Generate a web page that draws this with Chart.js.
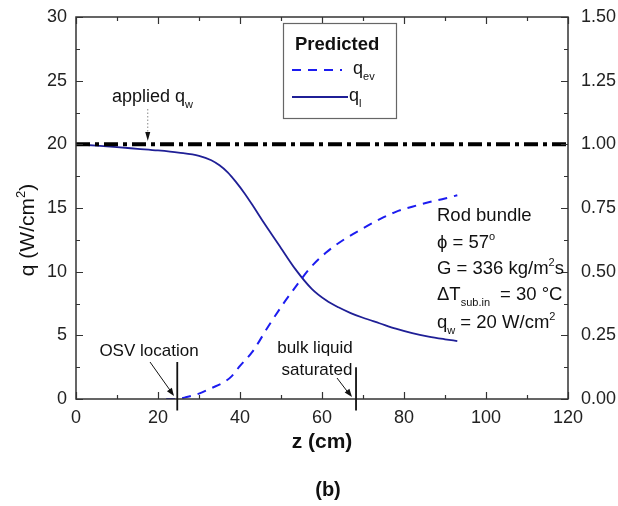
<!DOCTYPE html>
<html>
<head>
<meta charset="utf-8">
<script src="https://cdn.jsdelivr.net/npm/chart.js@4"></script>
<style>
  html, body { margin: 0; padding: 0; background: #fff; }
  canvas { display: block; }
</style>
</head>
<body>
<canvas id="chart" width="618" height="506"></canvas>
<script>
// ── Data ─────────────────────────────────────────────────────────
const zLiquid = [0, 5, 10, 15, 20, 25, 30, 33, 35, 37, 39, 41, 43, 45.5, 49.5, 53.5, 57.5, 61, 64, 67, 70, 74, 78, 82, 86, 90, 93];
const qLiquid = [20, 19.9, 19.78, 19.65, 19.52, 19.35, 19.1, 18.75, 18.35, 17.8, 17.05, 16.2, 15.25, 14.0, 12.1, 10.2, 8.65, 7.75, 7.2, 6.75, 6.38, 5.95, 5.52, 5.17, 4.9, 4.69, 4.55];

const zEvap = [22, 24.5, 27, 30, 33, 36, 38, 40, 43, 47, 50.5, 54, 57, 61, 65, 70, 74, 78, 82, 86, 90, 93];
const qEvap = [0, 0, 0.15, 0.42, 0.85, 1.3, 1.8, 2.6, 3.7, 5.75, 7.45, 9.0, 10.25, 11.5, 12.45, 13.4, 14.1, 14.7, 15.1, 15.45, 15.75, 16.0];

const zApplied = [0, 120];
const qApplied = [20, 20];

const zOsv = 24.7;      // OSV location marker
const zBulkSat = 68.3;  // bulk liquid saturated marker

const xTicks = [0, 20, 40, 60, 80, 100, 120];
const yTicks = [0, 5, 10, 15, 20, 25, 30];
const y1Ticks = [0, 0.25, 0.5, 0.75, 1.0, 1.25, 1.5];

// ── Styling ──────────────────────────────────────────────────────
const fontFamily = "'Liberation Sans', Arial, sans-serif";
const axisColor = "#333";
const navy = "#1f1f96";
const blue = "#1c1cf0";

function pts(xs, ys) {
  return xs.map((x, i) => ({ x, y: ys[i] }));
}

// rich text helper: parts = [[text, "n" | "sub" | "sup"], ...]
function richWidth(ctx, parts, size, weight) {
  let w = 0;
  parts.forEach(([t, k]) => {
    const s = k === "n" ? size : Math.round(size * 0.62);
    ctx.font = `${weight} ${s}px ${fontFamily}`;
    w += ctx.measureText(t).width;
  });
  return w;
}

function drawRich(ctx, parts, x, y, size, weight = "normal") {
  ctx.textBaseline = "alphabetic";
  ctx.textAlign = "left";
  parts.forEach(([t, k]) => {
    const s = k === "n" ? size : Math.round(size * 0.62);
    ctx.font = `${weight} ${s}px ${fontFamily}`;
    let dy = 0;
    if (k === "sub") dy = size * 0.32;
    if (k === "sup") dy = -size * 0.45;
    ctx.fillText(t, x, y + dy);
    x += ctx.measureText(t).width;
  });
}

function arrowHead(ctx, x1, y1, x2, y2, len, half) {
  const a = Math.atan2(y2 - y1, x2 - x1);
  ctx.beginPath();
  ctx.moveTo(x2, y2);
  ctx.lineTo(x2 - len * Math.cos(a) + half * Math.sin(a), y2 - len * Math.sin(a) - half * Math.cos(a));
  ctx.lineTo(x2 - len * Math.cos(a) - half * Math.sin(a), y2 - len * Math.sin(a) + half * Math.cos(a));
  ctx.closePath();
  ctx.fill();
}

// keep the plot box fixed: no extra room for edge tick labels
function fixSize(prop, size) {
  return (s) => {
    s[prop] = size;
    s.paddingTop = 0; s.paddingBottom = 0;
    s.paddingLeft = 0; s.paddingRight = 0;
  };
}

// ── Frame, inward ticks, annotations, legend ─────────────────────
const decorPlugin = {
  id: "decor",
  afterDraw(chart) {
    const { ctx, chartArea: a, scales: { x, y, y1 } } = chart;
    ctx.save();

    // frame
    ctx.strokeStyle = axisColor;
    ctx.lineWidth = 1.5;
    ctx.strokeRect(a.left, a.top, a.right - a.left, a.bottom - a.top);

    // ticks
    ctx.lineWidth = 1.2;
    ctx.beginPath();
    for (let v = 0; v <= 120; v += 10) {
      const px = Math.round(x.getPixelForValue(v)) + 0.5;
      const len = v % 20 === 0 ? 7 : 4;
      ctx.moveTo(px, a.bottom); ctx.lineTo(px, a.bottom - len);
      ctx.moveTo(px, a.top); ctx.lineTo(px, a.top + len);
    }
    for (let v = 0; v <= 30; v += 2.5) {
      const py = Math.round(y.getPixelForValue(v)) + 0.5;
      const len = v % 5 === 0 ? 7 : 4;
      ctx.moveTo(a.left, py); ctx.lineTo(a.left + len, py);
    }
    for (let v = 0; v <= 1.5001; v += 0.125) {
      const py = Math.round(y1.getPixelForValue(v)) + 0.5;
      const len = Math.abs(v / 0.25 - Math.round(v / 0.25)) < 1e-6 ? 7 : 4;
      ctx.moveTo(a.right, py); ctx.lineTo(a.right - len, py);
    }
    ctx.stroke();

    ctx.fillStyle = "#111";
    ctx.strokeStyle = "#111";

    // axis titles
    ctx.font = `bold 21px ${fontFamily}`;
    ctx.textAlign = "center";
    ctx.textBaseline = "middle";
    ctx.fillText("z (cm)", (a.left + a.right) / 2, 442);
    ctx.font = `bold 20px ${fontFamily}`;
    ctx.fillText("(b)", 328, 490);

    const yTitle = [["q (W/cm", "n"], ["2", "sup"], [")", "n"]];
    ctx.save();
    ctx.translate(34, 230);
    ctx.rotate(-Math.PI / 2);
    const tw = richWidth(ctx, yTitle, 21, "normal");
    drawRich(ctx, yTitle, -tw / 2, 0, 21);
    ctx.restore();

    // marker lines
    ctx.lineWidth = 1.8;
    ctx.beginPath();
    const xo = x.getPixelForValue(zOsv);
    ctx.moveTo(xo, y.getPixelForValue(2.9)); ctx.lineTo(xo, y.getPixelForValue(-0.9));
    const xb = x.getPixelForValue(zBulkSat);
    ctx.moveTo(xb, y.getPixelForValue(2.5)); ctx.lineTo(xb, y.getPixelForValue(-0.9));
    ctx.stroke();

    // annotation texts
    ctx.font = `17px ${fontFamily}`;
    ctx.textAlign = "center";
    ctx.textBaseline = "middle";
    ctx.fillText("OSV location", 149, 351);
    ctx.fillText("bulk liquid", 315, 348);
    ctx.fillText("saturated", 317, 370);

    // arrows
    ctx.lineWidth = 1;
    ctx.beginPath();
    ctx.moveTo(150, 362); ctx.lineTo(172, 393);
    ctx.moveTo(337, 378); ctx.lineTo(350, 395);
    ctx.stroke();
    arrowHead(ctx, 150, 362, 174, 396, 8, 3);
    arrowHead(ctx, 337, 378, 352, 397, 8, 3);

    // applied q_w label + dotted arrow
    drawRich(ctx, [["applied q", "n"], ["w", "sub"]], 112, 102, 18);
    const xa = x.getPixelForValue(17.5);
    ctx.strokeStyle = "#888";
    ctx.setLineDash([1.5, 2]);
    ctx.beginPath();
    ctx.moveTo(xa, 109); ctx.lineTo(xa, 132);
    ctx.stroke();
    ctx.setLineDash([]);
    ctx.fillStyle = "#111";
    arrowHead(ctx, xa, 120, xa, 141, 9, 2.5);

    // conditions text
    const tx = 437;
    drawRich(ctx, [["Rod bundle", "n"]], tx, 221, 18.5);
    drawRich(ctx, [["\u03D5 = 57", "n"], ["o", "sup"]], tx, 248, 18.5);
    drawRich(ctx, [["G = 336 kg/m", "n"], ["2", "sup"], ["s", "n"]], tx, 274, 18.5);
    drawRich(ctx, [["\u0394T", "n"], ["sub.in", "sub"]], tx, 300, 18.5);
    drawRich(ctx, [["= 30 \u00B0C", "n"]], 500, 300, 18.5);
    drawRich(ctx, [["q", "n"], ["w", "sub"], [" = 20 W/cm", "n"], ["2", "sup"]], tx, 328, 18.5);

    // legend box
    ctx.fillStyle = "#fff";
    ctx.fillRect(283, 23, 114, 96);
    ctx.strokeStyle = "#666";
    ctx.lineWidth = 1.2;
    ctx.strokeRect(283.5, 23.5, 113, 95);
    ctx.fillStyle = "#111";
    ctx.font = `bold 18.5px ${fontFamily}`;
    ctx.textAlign = "left";
    ctx.textBaseline = "middle";
    ctx.fillText("Predicted", 295, 45);

    ctx.lineWidth = 2;
    ctx.strokeStyle = blue;
    ctx.setLineDash([9, 7]);
    ctx.beginPath();
    ctx.moveTo(292, 70); ctx.lineTo(342, 70);
    ctx.stroke();
    ctx.setLineDash([]);
    ctx.strokeStyle = navy;
    ctx.beginPath();
    ctx.moveTo(292, 97); ctx.lineTo(348, 97);
    ctx.stroke();
    drawRich(ctx, [["q", "n"], ["ev", "sub"]], 353, 74, 18);
    drawRich(ctx, [["q", "n"], ["l", "sub"]], 349, 101, 18);

    ctx.restore();
  },
};

// ── Chart ────────────────────────────────────────────────────────
const tickFont = { family: fontFamily, size: 18 };
const noGrid = { display: false, drawTicks: false, tickLength: 0 };

new Chart(document.getElementById("chart"), {
  type: "line",
  data: {
    datasets: [
      {
        label: "applied q_w",
        data: pts(zApplied, qApplied),
        borderColor: "#000",
        borderWidth: 4,
        borderDash: [14, 5, 4, 5],
        pointRadius: 0,
      },
      {
        label: "q_ev",
        data: pts(zEvap, qEvap),
        borderColor: blue,
        borderWidth: 2,
        borderDash: [9, 7],
        pointRadius: 0,
        cubicInterpolationMode: "monotone",
      },
      {
        label: "q_l",
        data: pts(zLiquid, qLiquid),
        borderColor: navy,
        borderWidth: 1.8,
        pointRadius: 0,
        cubicInterpolationMode: "monotone",
      },
    ],
  },
  options: {
    responsive: false,
    animation: false,
    devicePixelRatio: 1,
    layout: { padding: { top: 17, left: 0, right: 0, bottom: 0 } },
    plugins: { legend: { display: false }, tooltip: { enabled: false } },
    scales: {
      x: {
        type: "linear",
        min: 0, max: 120,
        grid: noGrid,
        border: { display: false },
        afterFit: fixSize("height", 107),
        afterBuildTicks: (s) => { s.ticks = xTicks.map((v) => ({ value: v })); },
        ticks: { font: tickFont, color: "#222", padding: 8, maxRotation: 0, autoSkip: false },
      },
      y: {
        min: 0, max: 30,
        grid: noGrid,
        border: { display: false },
        afterFit: fixSize("width", 76),
        afterBuildTicks: (s) => { s.ticks = yTicks.map((v) => ({ value: v })); },
        ticks: { font: tickFont, color: "#222", padding: 9, autoSkip: false },
      },
      y1: {
        position: "right",
        min: 0, max: 1.5,
        grid: noGrid,
        border: { display: false },
        afterFit: fixSize("width", 50),
        afterBuildTicks: (s) => { s.ticks = y1Ticks.map((v) => ({ value: v })); },
        ticks: { font: tickFont, color: "#222", padding: 13, autoSkip: false, callback: (v) => Number(v).toFixed(2) },
      },
    },
  },
  plugins: [decorPlugin],
});
</script>
</body>
</html>
